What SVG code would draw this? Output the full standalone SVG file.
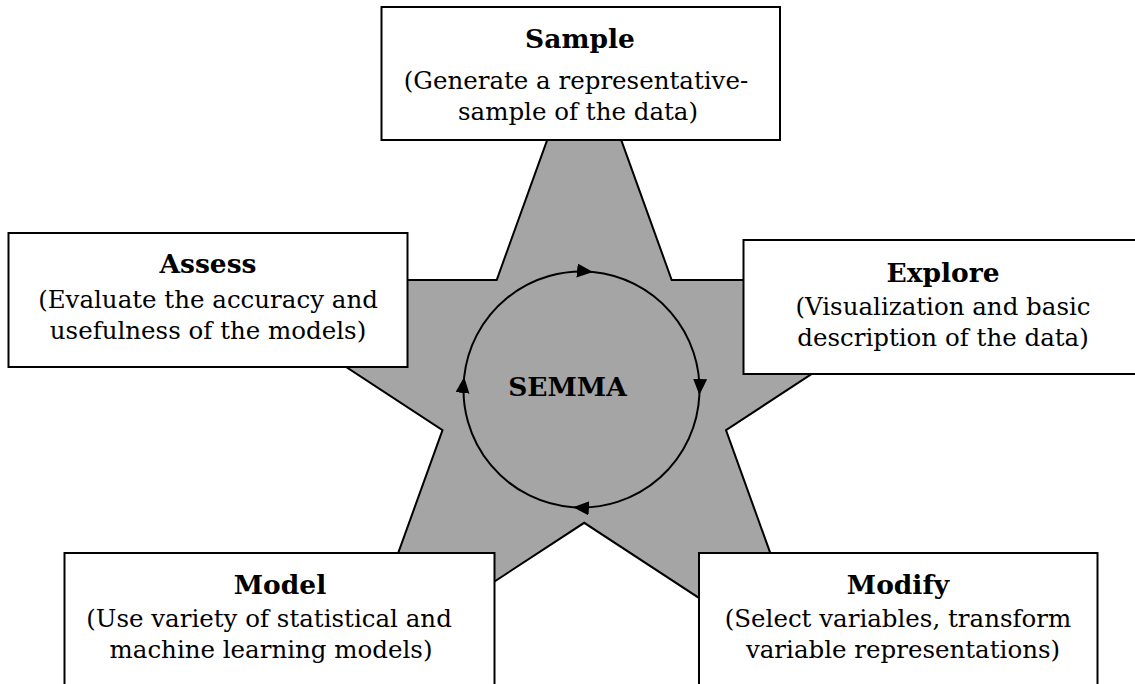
<svg xmlns="http://www.w3.org/2000/svg" width="1135" height="684" viewBox="0 0 1135 684">
<style>
.box{fill:#fff;stroke:#000;stroke-width:2}
.t{font-family:"DejaVu Serif","Liberation Serif",serif;text-anchor:middle;fill:#000}
.h{font-size:26.5px;font-weight:bold}
.b{font-size:24.5px}
.arc{fill:none;stroke:#000;stroke-width:2;marker-end:url(#ah)}
</style>
<defs>
<marker id="ah" markerUnits="userSpaceOnUse" markerWidth="17" markerHeight="15" refX="16" refY="7" orient="auto" viewBox="0 0 17 15">
<path d="M0,0 L16,7 L0,14 Z" fill="#000"/>
</marker>
</defs>
<rect width="1135" height="684" fill="#fff"/>
<g id="star">
<polygon points="584.2,37.3 671.7,280 955.1,280 726,430.1 813.4,672.8 584.2,522.8 355,672.8 442.5,430.1 213.3,280 496.7,280" fill="#a5a5a5" stroke="#000" stroke-width="2" stroke-linejoin="miter"/>
</g>
<g id="connectors">
<path class="arc" d="M464.16,377 A118,118 0 0 1 593,272.06"/>
<path class="arc" d="M593,272.06 A118,118 0 0 1 699.37,395"/>
<path class="arc" d="M699.37,395 A118,118 0 0 1 573,507.2"/>
<path class="arc" d="M573,507.2 A118,118 0 0 1 464.16,377"/>
</g>
<g id="semma">
<text class="t h" x="567.5" y="396">SEMMA</text>
</g>
<g id="sample">
<rect class="box" x="381.5" y="7" width="398.5" height="133"/>
<text class="t h" x="580" y="48">Sample</text>
<text class="t b" x="576" y="89">(Generate a representative-</text>
<text class="t b" x="578" y="120">sample of the data)</text>
</g>
<g id="assess">
<rect class="box" x="8.5" y="233" width="399" height="134"/>
<text class="t h" x="208" y="273">Assess</text>
<text class="t b" x="208" y="308">(Evaluate the accuracy and</text>
<text class="t b" x="208" y="339">usefulness of the models)</text>
</g>
<g id="explore">
<rect class="box" x="743.5" y="240" width="400" height="134"/>
<text class="t h" x="943" y="282">Explore</text>
<text class="t b" x="943" y="315">(Visualization and basic</text>
<text class="t b" x="943" y="346">description of the data)</text>
</g>
<g id="model">
<rect class="box" x="64.5" y="553" width="430" height="140"/>
<text class="t h" x="280" y="594">Model</text>
<text class="t b" x="269" y="627">(Use variety of statistical and</text>
<text class="t b" x="271" y="658">machine learning models)</text>
</g>
<g id="modify">
<rect class="box" x="699" y="553" width="398.5" height="140"/>
<text class="t h" x="898" y="594">Modify</text>
<text class="t b" x="898" y="627">(Select variables, transform</text>
<text class="t b" x="903" y="658">variable representations)</text>
</g>
</svg>
